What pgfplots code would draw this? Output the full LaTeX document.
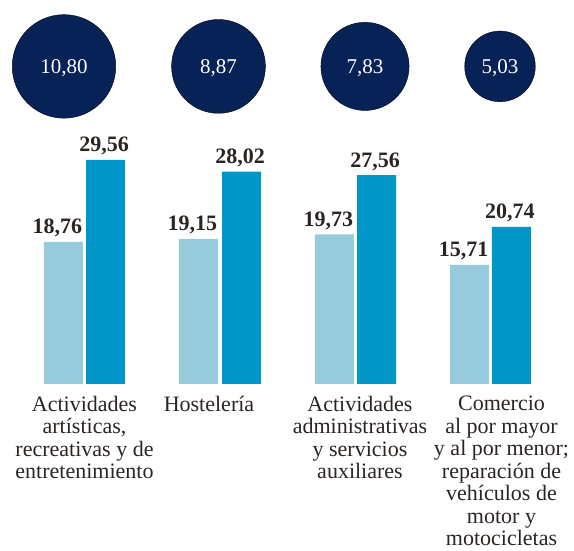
\documentclass[border=0pt]{standalone}
\usepackage{fontspec}
\setmainfont{Liberation Serif}
\usepackage{pgfplots}
\pgfplotsset{compat=1.18}
\definecolor{lightbar}{HTML}{96CBDD}
\definecolor{darkbar}{HTML}{0096C7}
\definecolor{navy}{HTML}{072257}
\definecolor{txt}{HTML}{2B2522}
\begin{document}
\begin{tikzpicture}
\begin{axis}[
  scale only axis, width=574pt, height=550pt,
  xmin=0, xmax=574, ymin=-21.9, ymax=50.66,
  axis line style={draw=none}, tick style={draw=none},
  ytick=\empty,
  xtick={84.5,209,360,501.5},
  xticklabels={{Actividades\\artísticas,\\recreativas y de\\entretenimiento}, Hostelería, {Actividades\\administrativas\\y servicios\\auxiliares}, {Comercio\\al por mayor\\y al por menor;\\reparación de\\vehículos de\\motor y\\motocicletas}},
  xticklabel style={anchor=north, align=center, inner sep=0pt, yshift=154pt, font=\fontsize{22}{22.5}\selectfont, text=txt},
  clip=false,
  point meta=explicit symbolic,
]
% light bars
\addplot[ybar, bar width=39pt, bar shift=0pt, fill=lightbar, draw=none,
  nodes near coords,
  every node near coord/.append style={font=\bfseries\fontsize{22}{22}\selectfont, text=txt, inner sep=0pt, anchor=base, xshift=-6pt, yshift=8pt}]
  table[meta=lab] {
x y lab
63.4 18.76 18,76
198.4 19.15 19,15
334.4 19.73 19,73
469.5 15.71 15,71
};
% dark bars
\addplot[ybar, bar width=39pt, bar shift=0pt, fill=darkbar, draw=none,
  nodes near coords,
  every node near coord/.append style={font=\bfseries\fontsize{22}{22}\selectfont, text=txt, inner sep=0pt, anchor=base, xshift=-1.5pt, yshift=8pt}]
  table[meta=lab] {
x y lab
105.5 29.56 29,56
241.5 28.02 28,02
376.5 27.56 27,56
511.4 20.74 20,74
};
% circles (diameter proportional to sqrt of difference)
\addplot[only marks, mark=*, mark size=51.76pt, mark options={fill=navy, draw=none},
  nodes near coords,
  every node near coord/.append style={font=\fontsize{21}{21}\selectfont, text=white, inner sep=0pt, anchor=base, yshift=-7.5pt}]
  table[meta=lab] {
x y lab
64 41.9 10,80
};
\addplot[only marks, mark=*, mark size=46.9pt, mark options={fill=navy, draw=none},
  nodes near coords,
  every node near coord/.append style={font=\fontsize{21}{21}\selectfont, text=white, inner sep=0pt, anchor=base, yshift=-7.5pt}]
  table[meta=lab] {
x y lab
218.5 41.9 8,87
};
\addplot[only marks, mark=*, mark size=44.07pt, mark options={fill=navy, draw=none},
  nodes near coords,
  every node near coord/.append style={font=\fontsize{21}{21}\selectfont, text=white, inner sep=0pt, anchor=base, yshift=-7.5pt}]
  table[meta=lab] {
x y lab
365 41.9 7,83
};
\addplot[only marks, mark=*, mark size=35.3pt, mark options={fill=navy, draw=none},
  nodes near coords,
  every node near coord/.append style={font=\fontsize{21}{21}\selectfont, text=white, inner sep=0pt, anchor=base, yshift=-7.5pt}]
  table[meta=lab] {
x y lab
500 41.9 5,03
};
\end{axis}
\end{tikzpicture}
\end{document}
